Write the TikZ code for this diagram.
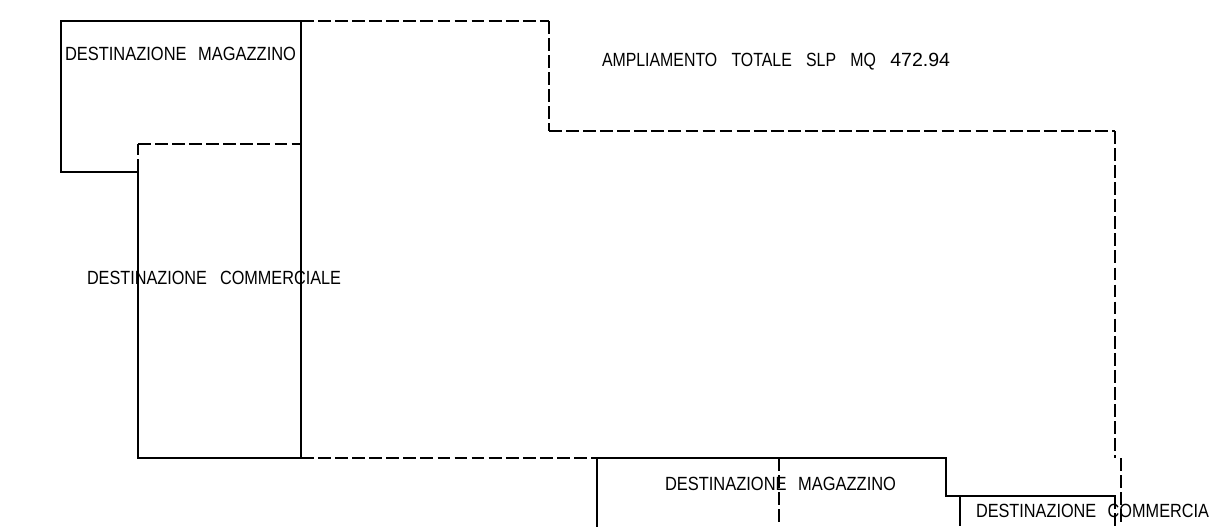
\documentclass[tikz,border=0pt]{standalone}
\usepackage{fontspec}
\setmainfont{Liberation Sans}
\tikzset{
  x=0.75pt,y=-0.75pt,
  wall/.style={line width=1.9pt,line cap=rect,line join=miter,black},
  thinwall/.style={line width=1.4pt,black},
  ext/.style={line width=1.9pt,black,dash pattern=on 9.6pt off 3.2pt},
  cad/.style={inner sep=0pt,outer sep=0pt,anchor=base west,text=black}
}
\newcommand{\cadlabel}[2]{\resizebox{#1}{10pt}{#2}}
\newcommand{\gap}{\hspace{0.7em}}
\newcommand{\widegap}{\hspace{0.9em}}
\begin{document}
\begin{tikzpicture}
\useasboundingbox (0,0) rectangle (1209,526);
\fill[white] (0,0) rectangle (1209,526);
\begin{scope}
\clip (0,0) rectangle (1209,526);
% extension (dashed)
\draw[ext] (301,21) -- (549,21);
\draw[ext] (549,21) -- (549,131);
\draw[ext] (549,131) -- (1115,131);
\draw[ext] (1115,131) -- (1115,458);
\draw[ext] (1121,458) -- (1121,526);
\draw[ext] (138,172) -- (138,144);
\draw[ext] (138,144) -- (301,144);
\draw[ext] (301,458) -- (597,458);
\draw[ext] (779,458) -- (779,526);
\draw[ext] (1115,496) -- (1115,526);
% existing (solid)
\draw[wall] (138,172) -- (61,172) -- (61,21) -- (301,21) -- (301,458) -- (138,458) -- (138,172);
\draw[wall] (597,526) -- (597,458) -- (946,458) -- (946,496) -- (1115,496);
\draw[thinwall] (960,496) -- (960,526);
\end{scope}
\node[cad] (t1) at (65,60) {\cadlabel{173.25pt}{DESTINAZIONE\gap MAGAZZINO}};
\node[cad] (t2) at (87,284) {\cadlabel{190.5pt}{DESTINAZIONE\hspace{0.8em}COMMERCIALE}};
\node[cad] (t3) at (602,66) {\cadlabel{261pt}{AMPLIAMENTO\widegap TOTALE\widegap SLP\widegap MQ\widegap \scalebox{1.23}[1]{472.94}}};
\node[cad] (t4) at (665,490) {\cadlabel{173.25pt}{DESTINAZIONE\gap MAGAZZINO}};
\node[cad] (t5) at (976,517) {\cadlabel{174.75pt}{DESTINAZIONE\gap COMMERCIA}};
\end{tikzpicture}
\end{document}
